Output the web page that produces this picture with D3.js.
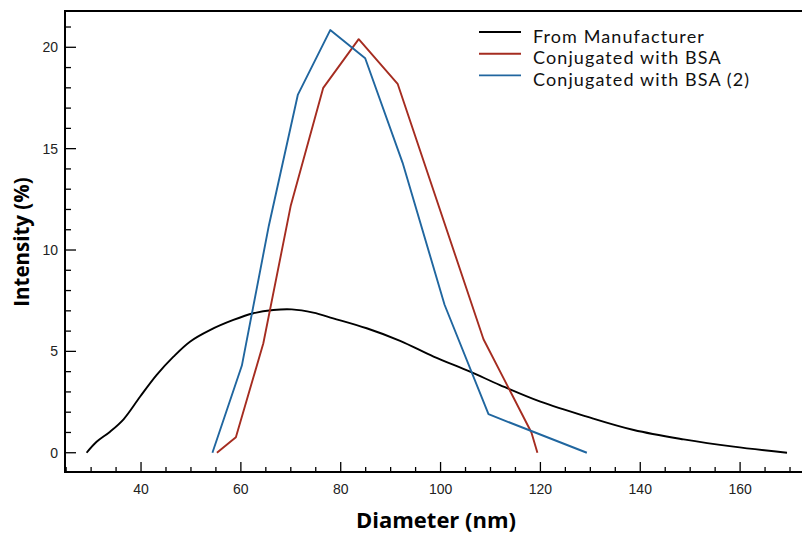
<!DOCTYPE html>
<html>
<head>
<meta charset="utf-8">
<script src="https://cdn.jsdelivr.net/npm/d3@7.9.0/dist/d3.min.js"></script>
<style>
  body { margin: 0; background: #fff; }
  svg { display: block; }
</style>
</head>
<body>
<svg id="chart" width="802" height="533"></svg>
<script>
// Series: [diameter (nm), intensity (%)]
const manufacturer = [
  [29.1, 0], [31.1, 0.54], [33.8, 1.04], [36.5, 1.65], [39.8, 2.76], [43.1, 3.83],
  [46.5, 4.74], [49.8, 5.48], [53.8, 6.05], [58.5, 6.55], [62.5, 6.88], [66.5, 7.04],
  [70.2, 7.07], [74.5, 6.91], [78.5, 6.63], [85.2, 6.14], [91.9, 5.52], [98.6, 4.74],
  [105.9, 4.0], [111.9, 3.34], [120, 2.52], [129.3, 1.78], [138.7, 1.12], [148.7, 0.66],
  [158.7, 0.3], [169.4, 0]
];
const bsa = [
  [55.2, 0], [59.0, 0.76], [64.5, 5.4], [70.0, 12.2], [76.5, 18.0], [83.6, 20.4],
  [91.4, 18.2], [108.6, 5.6], [118.2, 1.0], [119.4, 0]
];
const bsa2 = [
  [54.3, 0], [60.2, 4.3], [65.6, 11.2], [71.4, 17.65], [77.9, 20.85], [84.9, 19.46],
  [92.4, 14.3], [100.8, 7.3], [109.6, 1.9], [129.3, 0]
];

const seriesNames = ["From Manufacturer", "Conjugated with BSA", "Conjugated with BSA (2)"];
const seriesColors = ["#000000", "#a52c20", "#20669f"];
const xMajor = [40, 60, 80, 100, 120, 140, 160];
const yMajor = [0, 5, 10, 15, 20];

const svg = d3.select("#chart");
const plot = { left: 65, right: 802, top: 11, bottom: 472 };

// scales fitted to the tick positions in the picture
const x = d3.scaleLinear().domain([24.77, 172.4]).range([plot.left, plot.right]);
const y = d3.scaleLinear().domain([-0.95, 21.79]).range([plot.bottom, plot.top]);

// minor + major ticks, drawn inward
const xMinor = d3.range(25, 171, 5).filter(v => !xMajor.includes(v));
const yMinor = d3.range(0, 22, 1).filter(v => !yMajor.includes(v));

const ticks = svg.append("g").attr("stroke", "#000").attr("stroke-width", 1.3);
ticks.selectAll(".xmin").data(xMinor).join("line")
  .attr("x1", d => x(d)).attr("x2", d => x(d))
  .attr("y1", plot.bottom).attr("y2", plot.bottom - 5);
ticks.selectAll(".xmaj").data(xMajor).join("line")
  .attr("x1", d => x(d)).attr("x2", d => x(d))
  .attr("y1", plot.bottom).attr("y2", plot.bottom - 10);
ticks.selectAll(".ymin").data(yMinor).join("line")
  .attr("y1", d => y(d)).attr("y2", d => y(d))
  .attr("x1", plot.left).attr("x2", plot.left + 6);
ticks.selectAll(".ymaj").data(yMajor).join("line")
  .attr("y1", d => y(d)).attr("y2", d => y(d))
  .attr("x1", plot.left).attr("x2", plot.left + 11);

// frame (right side runs off the picture)
svg.append("path")
  .attr("d", `M${plot.right + 5},${plot.top}H${plot.left}V${plot.bottom}H${plot.right + 5}`)
  .attr("fill", "none").attr("stroke", "#000").attr("stroke-width", 2);

// tick labels
svg.append("g").selectAll("text").data(xMajor).join("text")
  .attr("x", d => x(d)).attr("y", 494)
  .attr("text-anchor", "middle")
  .attr("font-family", "Liberation Sans, Arial, sans-serif")
  .attr("font-size", 14).attr("fill", "#222")
  .text(d => d);
svg.append("g").selectAll("text").data(yMajor).join("text")
  .attr("x", 58).attr("y", d => y(d)).attr("dy", "0.36em")
  .attr("text-anchor", "end")
  .attr("font-family", "Liberation Sans, Arial, sans-serif")
  .attr("font-size", 14).attr("fill", "#222")
  .text(d => d);

// axis titles
svg.append("text")
  .attr("x", 436).attr("y", 528)
  .attr("text-anchor", "middle")
  .attr("font-family", "Open Sans, sans-serif").attr("font-weight", "bold")
  .attr("font-size", 22).attr("fill", "#000")
  .text("Diameter (nm)");
svg.append("text")
  .attr("transform", "translate(29,242) rotate(-90)")
  .attr("text-anchor", "middle")
  .attr("font-family", "Open Sans, sans-serif").attr("font-weight", "bold")
  .attr("font-size", 20.5).attr("fill", "#000")
  .text("Intensity (%)");

// lines
const line = d3.line().x(d => x(d[0])).y(d => y(d[1]));
const smooth = d3.line().x(d => x(d[0])).y(d => y(d[1])).curve(d3.curveCatmullRom.alpha(0.5));
[manufacturer, bsa, bsa2].forEach((data, i) => {
  svg.append("path")
    .attr("d", i === 0 ? smooth(data) : line(data))
    .attr("fill", "none")
    .attr("stroke", seriesColors[i])
    .attr("stroke-width", 1.9)
    .attr("stroke-linejoin", "round");
});

// legend
const legend = svg.append("g").attr("transform", "translate(479,32)");
seriesNames.forEach((name, i) => {
  const g = legend.append("g").attr("transform", `translate(0,${i * 21.7})`);
  g.append("line").attr("x1", 0).attr("x2", 42)
    .attr("stroke", seriesColors[i]).attr("stroke-width", 1.9);
  g.append("text").attr("x", 54).attr("y", 10.5)
    .attr("font-family", "Lato, sans-serif")
    .attr("font-size", 18).attr("letter-spacing", 1.1).attr("fill", "#111")
    .text(name);
});
</script>
</body>
</html>
